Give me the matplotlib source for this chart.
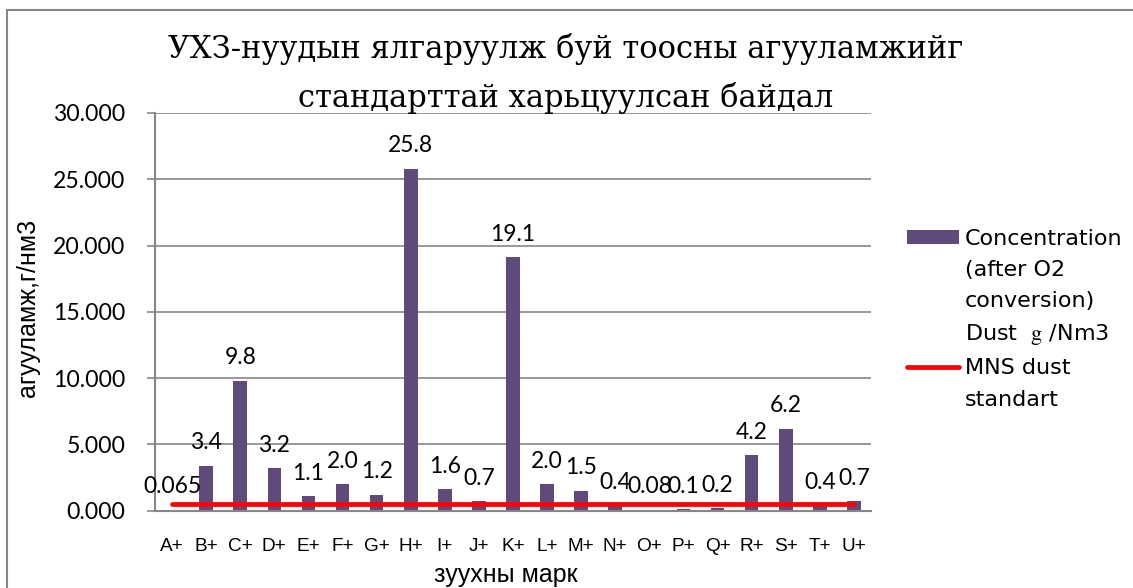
import matplotlib
matplotlib.use("Agg")
import matplotlib.pyplot as plt
import numpy as np
from matplotlib.patches import Patch, Rectangle
from matplotlib.lines import Line2D

plt.rcParams['font.family'] = ['Liberation Sans', 'DejaVu Sans']
plt.rcParams['mathtext.fontset'] = 'stix'

# данные
stoves = ['A+', 'B+', 'C+', 'D+', 'E+', 'F+', 'G+', 'H+', 'I+', 'J+', 'K+',
          'L+', 'M+', 'N+', 'O+', 'P+', 'Q+', 'R+', 'S+', 'T+', 'U+']
dust_conc = [0.065, 3.4, 9.8, 3.2, 1.1, 2.0, 1.2, 25.8, 1.6, 0.7, 19.1,
             2.0, 1.5, 0.4, 0.08, 0.1, 0.2, 4.2, 6.2, 0.4, 0.7]
dust_labels = ['0.065', '3.4', '9.8', '3.2', '1.1', '2.0', '1.2', '25.8', '1.6', '0.7', '19.1',
               '2.0', '1.5', '0.4', '0.08', '0.1', '0.2', '4.2', '6.2', '0.4', '0.7']
mns_standard = [0.5, 0.5, 0.5, 0.5, 0.5, 0.5, 0.5, 0.5, 0.5, 0.5, 0.5,
                0.5, 0.5, 0.5, 0.5, 0.5, 0.5, 0.5, 0.5, 0.5, 0.5]

bar_color = '#604A7B'
grid_color = '#868686'
num_font = ['Lato', 'DejaVu Sans']

fig = plt.figure(figsize=(11.33, 5.88), dpi=100)
ax = fig.add_axes([155 / 1133, 1 - 510.7 / 588, 716 / 1133, 397.7 / 588])

x = np.arange(len(stoves))
ax.bar(x, dust_conc, width=0.4, color=bar_color, zorder=2)
ax.plot(x, mns_standard, color='#FF0000', lw=3.4, solid_capstyle='round', zorder=3)

for xi, v, lab in zip(x, dust_conc, dust_labels):
    ax.annotate(lab, xy=(xi, v), xytext=(0, 9), textcoords='offset points',
                ha='center', va='bottom', fontsize=16.5, family=num_font,
                color='black', zorder=4)

ax.set_xlim(-0.5, len(stoves) - 0.5)
ax.set_ylim(0, 30)
ax.set_yticks(np.arange(0, 30.1, 5))
ax.yaxis.set_major_formatter(matplotlib.ticker.FormatStrFormatter('%.3f'))
ax.set_xticks(x)
ax.set_xticklabels(stoves)
for t in ax.get_yticklabels():
    t.set_family(num_font)

ax.tick_params(axis='y', length=5.8, width=1.2, color=grid_color, pad=15.5, labelsize=16.6)
ax.tick_params(axis='x', length=0, pad=20, labelsize=13.7)

ax.grid(axis='y', color=grid_color, lw=1.2, zorder=0)
ax.set_axisbelow(True)
for s in ['top', 'right']:
    ax.spines[s].set_visible(False)
for s in ['left', 'bottom']:
    ax.spines[s].set_color(grid_color)
    ax.spines[s].set_linewidth(1.5)

ax.set_ylabel('агууламж,г/нм3', fontsize=18, va='center')
ax.yaxis.set_label_coords((28 - 155) / 716, 0.51)
ax.set_xlabel('зуухны марк', fontsize=18, va='center')
ax.xaxis.set_label_coords(0.49, (510.7 - 575) / 397.7)

fig.text(0.499, 1 - 33 / 588,
         'УХЗ-нуудын ялгаруулж буй тоосны агууламжийг\nстандарттай харьцуулсан байдал',
         ha='center', va='top', fontsize=22, family='DejaVu Serif', linespacing=1.7)

blank = Line2D([], [], linestyle='none')
handles = [Patch(facecolor=bar_color), blank, blank, blank,
           Line2D([], [], color='#FF0000', lw=3.4, solid_capstyle='round'), blank]
labels = ['Concentration', '(after O2', 'conversion)', 'Dust  $\\mathrm{g}$ /Nm3',
          'MNS dust', 'standart']
fig.legend(handles, labels, loc='upper left', bbox_to_anchor=(907 / 1133, 1 - 229 / 588),
           frameon=False, borderpad=0, borderaxespad=0,
           prop={'family': 'DejaVu Sans', 'size': 16},
           handlelength=2.35, handleheight=0.55, handletextpad=0.25, labelspacing=0.5)

fig.patches.append(Rectangle((7 / 1133, -0.02), 1.0, 1 - 10 / 588 + 0.02,
                             transform=fig.transFigure, fill=False,
                             edgecolor=grid_color, lw=1.5))

fig.savefig('out.png', dpi=100)
